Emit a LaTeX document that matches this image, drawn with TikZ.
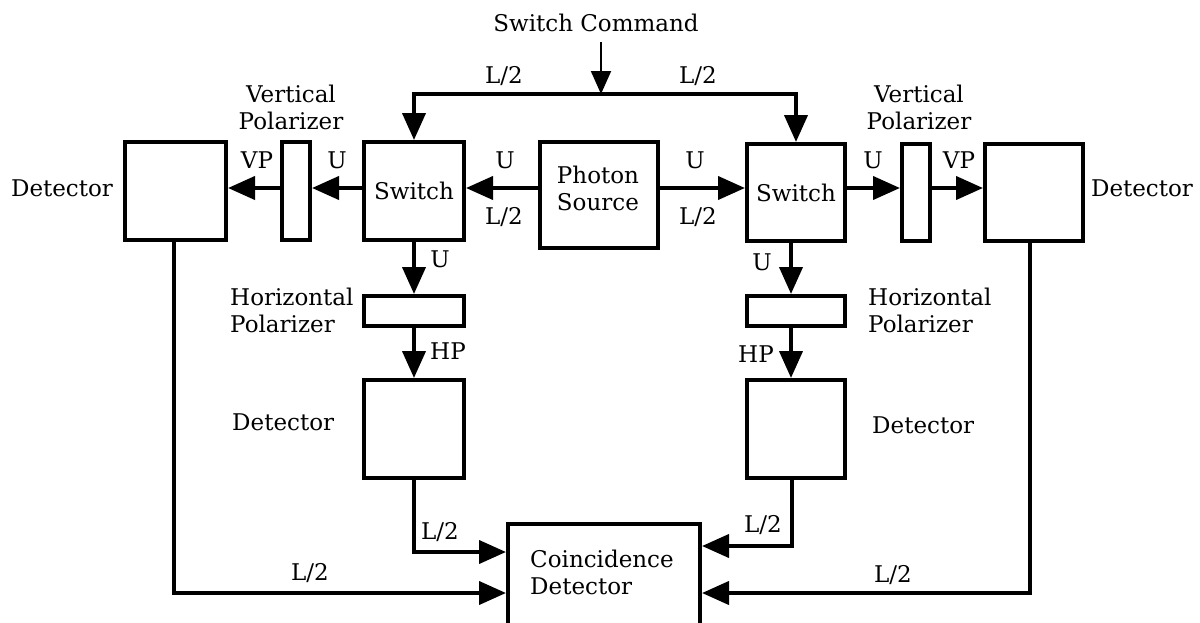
\documentclass[tikz,border=0pt]{standalone}
\usepackage{fontspec}
\setmainfont{DejaVu Serif}
\usetikzlibrary{arrows.meta}
\begin{document}
\begin{tikzpicture}[x=1pt,y=-1pt,
  every node/.style={font=\fontsize{23}{27}\selectfont, inner sep=0pt},
  blk/.style 2 args={draw, line width=4pt, minimum width=#1, minimum height=#2},
  wire/.style={line width=4pt, -{Triangle[length=27pt,width=23pt]}},
  cmdwire/.style={line width=2pt, -{Triangle[length=23pt,width=20pt]}},
  plain/.style={line width=4pt}
]
\useasboundingbox (0,0) rectangle (1200,622);
\clip (0,0) rectangle (1200,622);
\fill[white] (0,0) rectangle (1200,622);

% upper row
\node[blk={101pt}{98pt}] (detL) at (175.5,191) {};
\node[blk={28pt}{98pt}]  (vpL)  at (296,191) {};
\node[blk={100pt}{98pt}] (swL)  at (414,191) {Switch};
\node[blk={118pt}{106pt}] (src) at (599,195) {};
\node[align=left] (srcText) at (598,188) {Photon\\Source};
\node[blk={98pt}{97pt}]  (swR)  at (796,192.5) {Switch};
\node[blk={28pt}{97pt}]  (vpR)  at (916,192.5) {};
\node[blk={98pt}{97pt}]  (detR) at (1034,192.5) {};

% polarizer and detector columns
\node[blk={100pt}{30pt}] (hpL) at (414,311) {};
\node[blk={100pt}{98pt}] (dL2) at (414,429) {};
\node[blk={98pt}{30pt}]  (hpR) at (796,311) {};
\node[blk={98pt}{98pt}]  (dR2) at (796,429) {};

% coincidence detector
\node[blk={192pt}{106pt}] (coin) at (604,577) {};
\node[align=left, anchor=west] (coinText) at (530,572) {Coincidence\\Detector};

% switch command bus
\node (cmd) at (596,23) {Switch Command};
\coordinate (bus) at (601,94);
\draw[cmdwire] (601,42) coordinate (cmdTop) -- (bus);
\draw[wire] (bus) -| (swL.north);
\draw[wire] (bus) -| (swR.north);

% horizontal photon paths
\draw[wire] (src.west |- 0,188) -- (swL.east |- 0,188);
\draw[wire] (swL.west |- 0,188) -- (vpL.east |- 0,188);
\draw[wire] (vpL.west |- 0,188) -- (detL.east |- 0,188);
\draw[wire] (src.east |- 0,188) -- (swR.west |- 0,188);
\draw[wire] (swR.east |- 0,188) -- (vpR.west |- 0,188);
\draw[wire] (vpR.east |- 0,188) -- (detR.west |- 0,188);

% vertical photon paths
\draw[wire] (swL.south) -- (hpL.north);
\draw[wire] (hpL.south) -- (dL2.north);
\draw[wire] ([xshift=-5pt]swR.south) -- ([xshift=-5pt]hpR.north);
\draw[wire] ([xshift=-5pt]hpR.south) -- ([xshift=-5pt]dR2.north);

% detector outputs to coincidence detector
\draw[wire] (dL2.south) |- (coin.west |- 0,552);
\draw[wire] ([xshift=-2pt]detL.south) |- (coin.west |- 0,593);
\draw[wire] ([xshift=-4pt]dR2.south) |- (coin.east |- 0,546);
\draw[wire] ([xshift=-4pt]detR.south) |- (coin.east |- 0,593);

% labels
\node (lTopL) at (504,76) {L/2};
\node (lTopR) at (698,76) {L/2};
\node (uSrcL) at (505,160) {U};
\node (lSrcL) at (504,217) {L/2};
\node (uSrcR) at (695,160) {U};
\node (lSrcR) at (698,217) {L/2};
\node (uL) at (337,160) {U};
\node (vpLbl) at (257,160) {VP};
\node (uR) at (873,160) {U};
\node (vpRbl) at (959,160) {VP};
\node (detLText) at (62,188) {Detector};
\node (detRText) at (1142,188) {Detector};
\node[align=center] (vpLText) at (291,107) {Vertical\\Polarizer};
\node[align=center] (vpRText) at (919,107) {Vertical\\Polarizer};
\node (uDL) at (440,259) {U};
\node (uDR) at (762,262) {U};
\node (hpLbl) at (448,351) {HP};
\node (hpRbl) at (756,354) {HP};
\node[align=left, anchor=west] (hpLText) at (230,310) {Horizontal\\Polarizer};
\node[align=left, anchor=west] (hpRText) at (868,310) {Horizontal\\Polarizer};
\node[anchor=west] (dL2Text) at (232,422) {Detector};
\node[anchor=west] (dR2Text) at (872,425) {Detector};
\node (lLowL) at (440,532) {L/2};
\node (lLowR) at (763,525) {L/2};
\node (lBotL) at (310,573) {L/2};
\node (lBotR) at (893,575) {L/2};
\end{tikzpicture}
\end{document}
